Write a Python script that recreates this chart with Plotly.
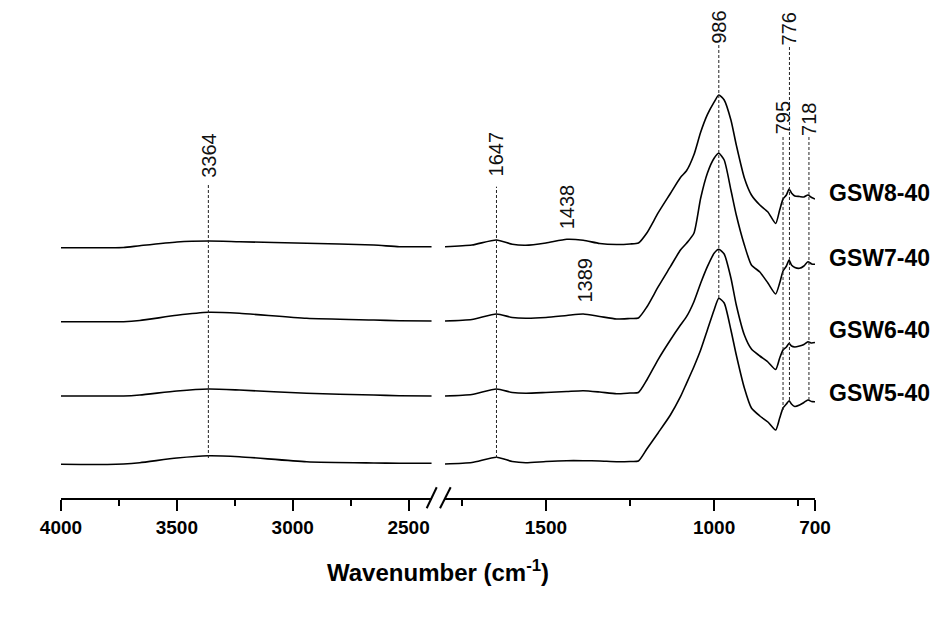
import plotly.graph_objects as go

# ---------------- data ----------------
# wavenumber (cm-1); the axis is broken between 2400 and 1800
wavenumber = [4000, 3800, 3730, 3660, 3500, 3364, 3230, 2940, 2650, 2540, 2400,
              1800, 1720, 1647, 1600, 1560, 1500, 1438, 1389, 1340, 1290, 1250, 1225,
              1200, 1166, 1130, 1100, 1082, 1060, 1040, 1020, 1000, 986, 970, 950,
              934, 910, 889, 864, 840, 817, 805, 795, 785, 777, 770, 760, 746, 733,
              721, 710, 700]

# stacked intensities (a.u., offsets included)
gsw8 = [250.3, 250.3, 250.5, 252.3, 256.0, 257.0, 256.3, 254.7, 253.0, 251.3, 251.3,
        251.3, 253.0, 258.0, 253.7, 252.7, 255.0, 258.7, 257.7, 254.5, 253.5, 254.0, 255.0,
        265.0, 285.3, 304.5, 320.5, 327.2, 343.2, 365.7, 383.3, 395.8, 403.0, 398.0, 378.0,
        353.0, 320.0, 303.0, 293.0, 286.0, 274.5, 288.0, 299.0, 303.0, 309.0, 305.0, 302.0, 301.5, 301.0,
        303.0, 300.5, 299.0]
gsw7 = [176.3, 176.3, 176.3, 177.5, 182.7, 185.7, 184.7, 179.7, 178.0, 177.3, 177.0,
        177.0, 178.5, 184.0, 180.5, 179.7, 180.5, 182.5, 184.0, 181.5, 179.0, 179.5, 180.0,
        191.0, 211.3, 231.3, 248.0, 254.7, 264.7, 299.7, 324.7, 339.7, 344.7, 338.0, 308.0,
        283.0, 253.0, 233.0, 226.0, 215.0, 204.0, 215.0, 227.0, 232.0, 238.0, 233.0, 230.5, 229.7, 232.0,
        236.3, 234.0, 233.7]
gsw6 = [102.0, 102.0, 102.0, 103.0, 107.0, 109.0, 108.0, 104.7, 103.0, 102.3, 102.0,
        102.0, 103.5, 109.0, 105.5, 104.7, 105.5, 106.5, 107.3, 106.0, 104.3, 105.0, 105.5,
        118.0, 138.7, 158.0, 173.0, 181.3, 196.3, 214.7, 231.3, 244.7, 248.7, 244.0, 220.0,
        193.0, 163.0, 149.0, 142.0, 136.0, 128.5, 140.0, 148.0, 151.0, 154.7, 152.0, 151.0, 152.0, 153.5,
        156.3, 155.0, 155.5]
gsw5 = [33.7, 33.5, 34.0, 35.3, 40.0, 42.3, 41.3, 36.3, 35.0, 34.7, 34.7,
        34.0, 35.5, 40.7, 36.5, 35.3, 36.5, 37.3, 37.3, 37.0, 36.3, 36.5, 37.0,
        49.0, 65.3, 83.0, 101.3, 114.7, 131.3, 148.0, 168.0, 188.0, 199.7, 195.0, 168.0,
        143.0, 110.0, 90.0, 82.0, 76.0, 68.0, 80.0, 90.0, 94.0, 97.3, 94.0, 91.5, 93.0, 95.5,
        98.0, 96.5, 96.3]

series_names = ["GSW8-40", "GSW7-40", "GSW6-40", "GSW5-40"]
series_values = [gsw8, gsw7, gsw6, gsw5]
label_levels = [305.3, 239.7, 168.0, 105.3]

# marked bands: label, position, label centre level, guide line top/bottom
peak_labels = ["3364", "1647", "1438", "1389", "986", "795", "776", "718"]
peak_pos = [3364, 1647, 1438, 1385, 986, 795, 776, 718]
peak_label_level = [342.5, 344.0, 291.5, 218.0, 471.0, 379.7, 469.0, 379.0]
guide_pos = [3364, 1647, 986, 795, 776, 718]
guide_top = [313.0, 311.3, 453.0, 361.0, 452.0, 361.0]
guide_bottom = [40.0, 40.0, 200.0, 88.0, 98.0, 98.0]

left_range = [4000, 2400]
right_range = [1800, 700]
left_ticks = [4000, 3500, 3000, 2500]
left_minor = [3750, 3250, 2750]
right_ticks = [1500, 1000, 700]
right_minor = [1750, 1250, 750]

# ---------------- figure ----------------
FONT = "Arial, 'Liberation Sans', sans-serif"
fig = go.Figure()

for name, vals in zip(series_names, series_values):
    lx = [w for w in wavenumber if w >= left_range[1]]
    ly = [v for w, v in zip(wavenumber, vals) if w >= left_range[1]]
    rx = [w for w in wavenumber if w <= right_range[0]]
    ry = [v for w, v in zip(wavenumber, vals) if w <= right_range[0]]
    fig.add_trace(go.Scatter(x=lx, y=ly, xaxis="x", yaxis="y", mode="lines",
                             line=dict(color="black", width=1.6, shape="spline", smoothing=0.6),
                             name=name, showlegend=False, hoverinfo="skip"))
    fig.add_trace(go.Scatter(x=rx, y=ry, xaxis="x2", yaxis="y", mode="lines",
                             line=dict(color="black", width=1.6, shape="spline", smoothing=0.6),
                             name=name, showlegend=False, hoverinfo="skip"))

shapes = []
for p, t, b in zip(guide_pos, guide_top, guide_bottom):
    xr = "x" if p >= left_range[1] else "x2"
    shapes.append(dict(type="line", xref=xr, yref="y", x0=p, x1=p, y0=b, y1=t,
                       line=dict(color="#222", width=1, dash="3px,2px")))

# axis break marks
for x0, x1 in [(0.485, 0.4983), (0.5027, 0.5168)]:
    shapes.append(dict(type="line", xref="paper", yref="paper", x0=x0, x1=x1,
                       y0=-0.0215, y1=0.0224, line=dict(color="black", width=2)))

annotations = []
for lab, p, lv in zip(peak_labels, peak_pos, peak_label_level):
    xr = "x" if p >= left_range[1] else "x2"
    annotations.append(dict(text=lab, x=p, y=lv, xref=xr, yref="y", showarrow=False,
                            textangle=-90, xanchor="center", yanchor="middle",
                            font=dict(family=FONT, size=20, color="#111")))

for name, lv in zip(series_names, label_levels):
    annotations.append(dict(text="<b>%s</b>" % name, x=1.0163, y=lv, xref="paper", yref="y",
                            showarrow=False, xanchor="left", yanchor="middle",
                            font=dict(family=FONT, size=23, color="black")))

annotations.append(dict(text="<b>Wavenumber (cm<sup>-1</sup>)</b>", x=0.5, y=-0.1527,
                        xref="paper", yref="paper", showarrow=False,
                        xanchor="center", yanchor="middle",
                        font=dict(family=FONT, size=24, color="black")))

axis_common = dict(showline=True, linecolor="black", linewidth=2, ticks="outside",
                   ticklen=11, tickwidth=2, tickcolor="black", showgrid=False,
                   zeroline=False, tickfont=dict(family=FONT, size=19, color="black"),
                   fixedrange=True)

fig.update_layout(
    width=947, height=627,
    margin=dict(l=61, r=132, t=20, b=129),
    paper_bgcolor="white", plot_bgcolor="white",
    xaxis=dict(domain=[0, 0.4917], range=left_range, tickmode="array",
               tickvals=left_ticks, ticktext=["<b>%d</b>" % t for t in left_ticks],
               minor=dict(tickmode="array", tickvals=left_minor, ticklen=6,
                          tickwidth=2, tickcolor="black", ticks="outside"),
               anchor="y", **axis_common),
    xaxis2=dict(domain=[0.5093, 1], range=right_range, tickmode="array",
                tickvals=right_ticks, ticktext=["<b>%d</b>" % t for t in right_ticks],
                minor=dict(tickmode="array", tickvals=right_minor, ticklen=6,
                           tickwidth=2, tickcolor="black", ticks="outside"),
                anchor="y", **axis_common),
    yaxis=dict(range=[0, 478], visible=False, fixedrange=True),
    shapes=shapes,
    annotations=annotations,
    showlegend=False,
)

fig.write_html("out.html")
